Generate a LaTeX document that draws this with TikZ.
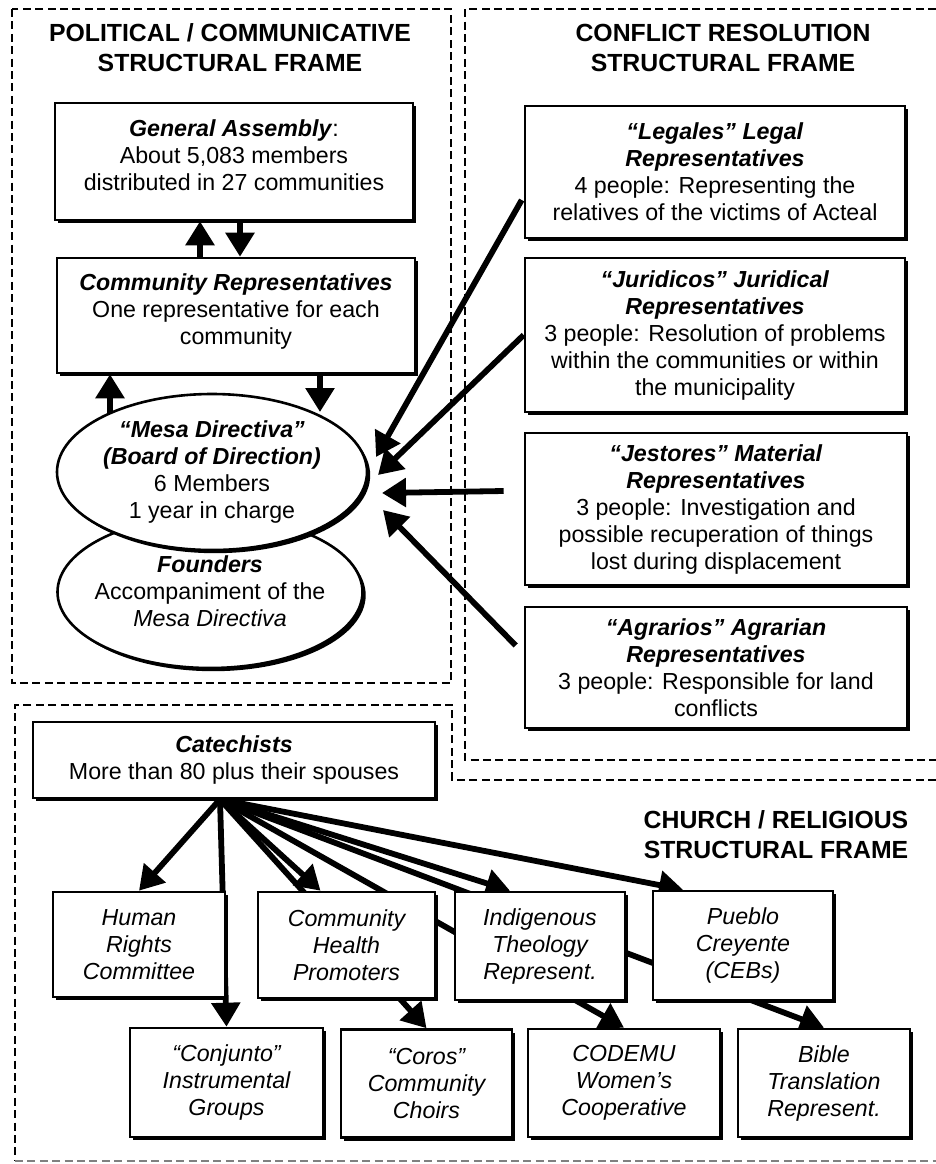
\documentclass[tikz,border=0pt]{standalone}
\usepackage{fontspec}
\setmainfont{Liberation Sans}
\usetikzlibrary{arrows.meta,shapes.geometric,shadows,calc,backgrounds}

\newcommand{\bitext}[1]{\textbf{\textit{#1}}}
\newcommand{\bodyfont}{\fontsize{11.6}{13.5}\selectfont}
\newcommand{\headfont}{\fontsize{12.4}{15}\selectfont\bfseries}

\tikzset{
  frame/.style={line width=1.2pt, dash pattern=on 4pt off 2.2pt},
  box/.style={draw, line width=1.3pt, fill=white, align=center, inner sep=2pt,
    drop shadow={shadow xshift=1.6pt, shadow yshift=-1.6pt, opacity=1, fill=black},
    font=\bodyfont},
  ibox/.style={box, font=\bodyfont\itshape},
  oval/.style={box, ellipse, inner xsep=-10pt, inner ysep=0pt},
  arr/.style={line width=2.9pt, -{Triangle[length=12pt,width=14pt]}},
  heading/.style={align=center, font=\headfont},
}

\begin{document}
\begin{tikzpicture}[x=0.5pt, y=-0.5pt]
  \useasboundingbox (0,0) rectangle (936,1164);

  % Frame headings
  \node[heading] (polhead) at (230,48) {POLITICAL / COMMUNICATIVE\\STRUCTURAL FRAME};
  \node[heading] (confhead) at (723,48) {CONFLICT RESOLUTION\\STRUCTURAL FRAME};
  \node[heading] (churchhead) at (776,835) {CHURCH / RELIGIOUS\\STRUCTURAL FRAME};

  % Political / communicative frame
  \node[box, minimum width=179pt, minimum height=58.5pt] (ga) at (234,161.5)
    {\bitext{General Assembly}:\\About 5,083 members\\distributed in 27 communities\\[-7pt]~};
  \node[box, minimum width=179pt, minimum height=57.5pt] (cr) at (236,315.5)
    {\bitext{Community Representatives}\\One representative for each\\community\\[-7pt]~};
  \node[oval, minimum width=152.5pt, minimum height=76pt] (found) at (210,592)
    {~\\[-6pt]\bitext{Founders}\\Accompaniment of the\\\textit{Mesa Directiva}};
  \node[oval, minimum width=155pt, minimum height=78pt] (mesa) at (212,472)
    {\bitext{“Mesa Directiva”}\\\bitext{(Board of Direction)}\\6 Members\\1 year in charge};

  % Conflict resolution frame
  \node[box, minimum width=190pt, minimum height=66pt] (legal) at (715,172)
    {\bitext{“Legales” Legal}\\\bitext{Representatives}\\4 people: Representing the\\relatives of the victims of Acteal};
  \node[box, minimum width=190pt, minimum height=77pt] (jurid) at (715,335)
    {\bitext{“Juridicos” Juridical}\\\bitext{Representatives}\\3 people: Resolution of problems\\within the communities or within\\the municipality};
  \node[box, minimum width=191pt, minimum height=76pt] (jest) at (716,509)
    {\bitext{“Jestores” Material}\\\bitext{Representatives}\\3 people: Investigation and\\possible recuperation of things\\lost during displacement};
  \node[box, minimum width=191pt, minimum height=60.5pt] (agrar) at (716,667.5)
    {\bitext{“Agrarios” Agrarian}\\\bitext{Representatives}\\3 people: Responsible for land\\conflicts};

  % Church / religious frame
  \node[box, minimum width=201pt, minimum height=38pt] (cat) at (234,760)
    {\bitext{Catechists}\\More than 80 plus their spouses};
  \node[ibox, minimum width=86pt, minimum height=52.5pt] (hr) at (139,944.5) {Human\\Rights\\Committee};
  \node[ibox, minimum width=88.5pt, minimum height=53pt] (chp) at (346.5,945) {Community\\Health\\Promoters};
  \node[ibox, minimum width=85pt, minimum height=54pt] (it) at (540,946) {Indigenous\\Theology\\Represent.};
  \node[ibox, minimum width=90pt, minimum height=54.5pt] (pc) at (743,945.5) {Pueblo\\Creyente\\(CEBs)};
  \node[ibox, minimum width=96.5pt, minimum height=54.5pt] (conj) at (226.5,1082.5) {“Conjunto”\\Instrumental\\Groups};
  \node[ibox, minimum width=85.5pt, minimum height=54pt] (coros) at (426.5,1083.5) {“Coros”\\Community\\Choirs};
  \node[ibox, minimum width=96pt, minimum height=54pt] (codemu) at (624,1083) {CODEMU\\Women’s\\Cooperative};
  \node[ibox, minimum width=86pt, minimum height=54pt] (bible) at (824,1083) {Bible\\Translation\\Represent.};

  \begin{scope}[on background layer]
    % Dashed frames
    \draw[frame] (12,9) rectangle (451,683);
    \draw[frame] (936,9) -- (465,9) -- (465,760) -- (936,760);
    \draw[frame] (936,780) -- (452,780) -- (452,705) -- (15,705) -- (15,1161);
    \draw[frame, gray] (15,1161) -- (936,1161);

    % Assembly and representatives
    \draw[arr] ([xshift=-18pt]cr.north) -- ([xshift=-17pt]ga.south);
    \draw[arr] ([xshift=3pt]ga.south) -- ([xshift=2pt]cr.north);
    \coordinate (mesaU) at (110,425);
    \coordinate (mesaD) at (320,412);
    \draw[arr] (mesaU) -- (mesaU |- cr.south);
    \draw[arr] (mesaD |- cr.south) -- (mesaD);

    % Conflict resolution to Mesa Directiva
    \coordinate (tipL) at (376,457);
    \coordinate (tipJ) at (378,475);
    \coordinate (tipS) at (382,493);
    \coordinate (tipA) at (383,510);
    \draw[arr] ($(legal.west)+(-2,28)$) -- (tipL);
    \draw[arr] (jurid.west) -- (tipJ);
    \draw[arr] ($(jest.west)+(-20,-18)$) -- (tipS);
    \draw[arr] ($(agrar.west)+(-8,-22)$) -- (tipA);

    % Catechists fan
    \coordinate (hub) at ([xshift=-7pt]cat.south);
    \draw[arr] (hub) -- (hr.north);
    \draw[arr] (hub) -- (conj.north);
    \draw[arr] (hub) -- ([xshift=-13pt]chp.north);
    \draw[arr] (hub) -- (coros.north);
    \draw[arr] (hub) -- ([xshift=-15pt]it.north);
    \draw[arr] (hub) -- (codemu.north);
    \draw[arr] (hub) -- ([xshift=-30pt]pc.north);
    \draw[arr] (hub) -- (bible.north);
  \end{scope}
\end{tikzpicture}
\end{document}
